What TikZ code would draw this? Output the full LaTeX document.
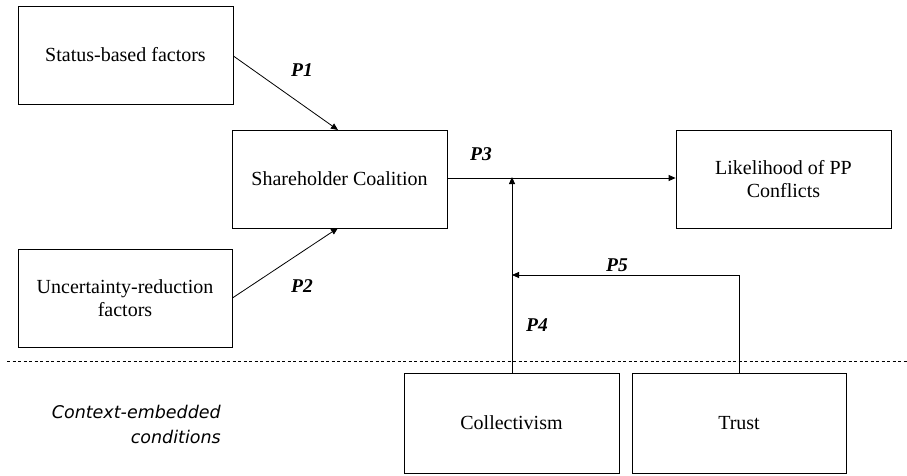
\documentclass[tikz,border=0pt]{standalone}
\usepackage{fontspec}
\setmainfont{Liberation Serif}
\newfontfamily\ctxfont{DejaVu Sans}
\usetikzlibrary{arrows.meta}
\begin{document}
\begin{tikzpicture}[x=1pt,y=-1pt,
  box/.style={draw,line width=0.8pt,inner sep=0pt,align=center,font=\fontsize{20}{23}\selectfont},
  conn/.style={line width=0.8pt,-{Triangle[length=7pt,width=6pt]}},
  plain/.style={line width=0.8pt},
  plab/.style={font=\fontsize{19.5}{22}\selectfont\bfseries\itshape}]
\useasboundingbox (0,0) rectangle (907,475);
\node[box,minimum width=215pt,minimum height=98pt] (status) at (125.5,55) {Status-based factors};
\node[box,minimum width=215pt,minimum height=98pt] (share) at (339.5,179) {Shareholder Coalition};
\node[box,minimum width=214pt,minimum height=98pt] (unc) at (125,298) {Uncertainty-reduction\\factors};
\node[box,minimum width=215pt,minimum height=98pt] (like) at (783.5,179) {Likelihood of PP\\Conflicts};
\node[box,minimum width=215pt,minimum height=100pt] (coll) at (511.5,423) {Collectivism};
\node[box,minimum width=214pt,minimum height=100pt] (trust) at (739,423) {Trust};
\coordinate (p1end) at (338,130);
\coordinate (p2end) at (338,228);
\coordinate (mod) at (512,178);
\coordinate (mod2) at (512,275);
\coordinate (tcorner) at (739,275);
\coordinate (dl) at (7,361);
\coordinate (dr) at (907,361);
\draw[conn] (status.east) ++(0,1) -- (p1end);
\draw[conn] (unc.east) -- (p2end);
\draw[conn] (share.east |- mod) -- (like.west |- mod);
\draw[conn] (coll.north -| mod) -- ([yshift=1pt]mod);
\draw[plain] (trust.north -| tcorner) -- (tcorner);
\draw[conn] (tcorner) -- (mod2);
\draw[line width=0.8pt,dash pattern=on 3pt off 2.5pt] (dl) -- (dr);
\node[plab] (l1) at (302,70) {P1};
\node[plab] (l2) at (302,286) {P2};
\node[plab] (l3) at (481,154) {P3};
\node[plab] (l4) at (537,325) {P4};
\node[plab] (l5) at (617,265) {P5};
\node[font=\fontsize{17.5}{25}\selectfont\ctxfont\itshape,align=right,anchor=east,inner sep=0pt] (ctx) at (221,424) {Context-embedded\\conditions};
\end{tikzpicture}
\end{document}
